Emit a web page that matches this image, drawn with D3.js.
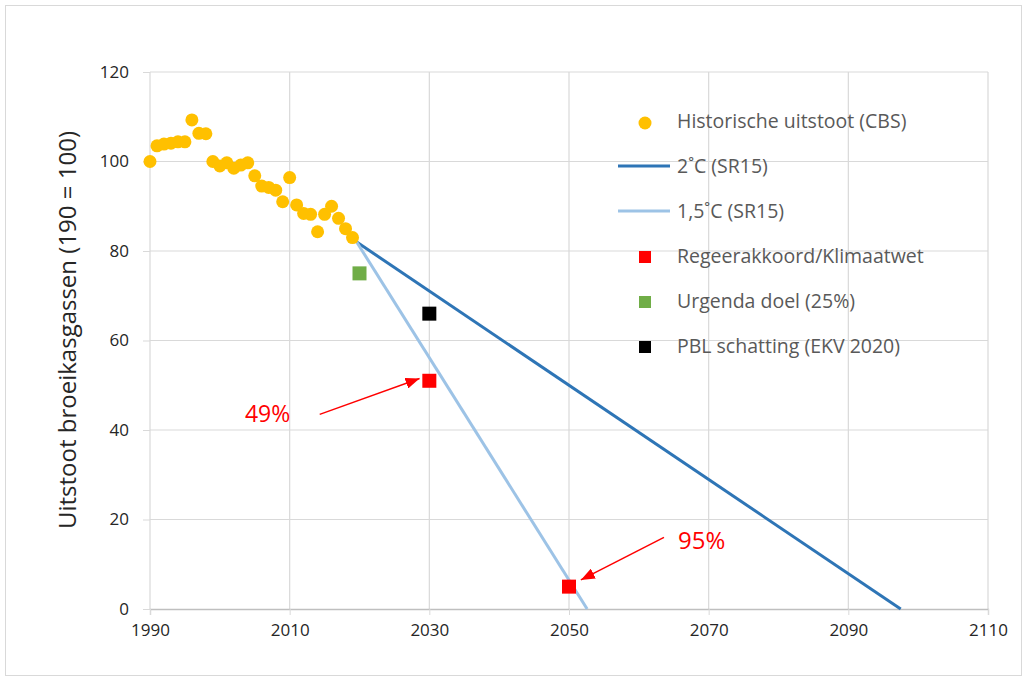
<!DOCTYPE html>
<html>
<head>
<meta charset="utf-8">
<script src="https://cdn.jsdelivr.net/npm/d3@7"></script>
<style>
  body { margin: 0; background: #fff; }
  svg text { font-family: "Open Sans", "Noto Sans", sans-serif; }
</style>
</head>
<body>
<div id="chart"></div>
<script>
  // Data
  const histYears = [1990, 1991, 1992, 1993, 1994, 1995, 1996, 1997, 1998, 1999,
    2000, 2001, 2002, 2003, 2004, 2005, 2006, 2007, 2008, 2009,
    2010, 2011, 2012, 2013, 2014, 2015, 2016, 2017, 2018, 2019];
  const histValues = [100, 103.5, 103.9, 104.1, 104.4, 104.4, 109.3, 106.3, 106.2, 100,
    99, 99.7, 98.5, 99.2, 99.7, 96.8, 94.5, 94.2, 93.6, 91,
    96.4, 90.3, 88.4, 88.2, 84.3, 88.2, 90, 87.3, 85, 83];
  const path2C = [[2019.6, 82], [2097.5, 0]];
  const path15C = [[2019.6, 82], [2052.6, 0]];
  const regeerakkoord = [[2030, 51], [2050, 5]];
  const urgenda = [[2020, 75]];
  const pbl = [[2030, 66]];
  const xTicks = [1990, 2010, 2030, 2050, 2070, 2090, 2110];
  const yTicks = [0, 20, 40, 60, 80, 100, 120];
  const legendLabels = ["Historische uitstoot (CBS)", "2\u02daC (SR15)", "1,5\u02daC (SR15)",
    "Regeerakkoord/Klimaatwet", "Urgenda doel (25%)", "PBL schatting (EKV 2020)"];
  const annotations = [
    { label: "49%", size: 23, from: [2014.3, 43.5], to: [2028.6, 51.5], text: [2003.6, 43.5] },
    { label: "95%", size: 24, from: [2063.6, 16], to: [2051.7, 6.5], text: [2065.6, 15.2] }
  ];

  const W = 1027, H = 681;
  const margin = { left: 150, right: 39, top: 72, bottom: 72 };

  const svg = d3.select("#chart").append("svg")
    .attr("width", W).attr("height", H);

  // outer frame
  svg.append("rect")
    .attr("x", 5.5).attr("y", 5.5)
    .attr("width", W - 11).attr("height", H - 11)
    .attr("fill", "#fff").attr("stroke", "#d9d9d9");

  const x = d3.scaleLinear().domain([1990, 2110]).range([margin.left, W - margin.right]);
  const y = d3.scaleLinear().domain([0, 120]).range([H - margin.bottom, margin.top]);

  // gridlines
  svg.append("g").selectAll("line").data(yTicks.filter(d => d > 0)).join("line")
    .attr("x1", x(1990)).attr("x2", x(2110))
    .attr("y1", d => y(d)).attr("y2", d => y(d))
    .attr("stroke", "#d9d9d9").attr("stroke-width", 1.2);
  svg.append("g").selectAll("line").data(xTicks).join("line")
    .attr("x1", d => x(d)).attr("x2", d => x(d))
    .attr("y1", y(0)).attr("y2", y(120))
    .attr("stroke", "#d9d9d9").attr("stroke-width", 1.2);

  // axes
  const xAxis = svg.append("g")
    .attr("transform", `translate(0,${y(0)})`)
    .call(d3.axisBottom(x).tickValues(xTicks).tickFormat(d3.format("d")).tickSize(6).tickPadding(9));
  xAxis.select(".domain").attr("stroke", "#bfbfbf").attr("stroke-width", 1.3);
  xAxis.selectAll(".tick line").attr("stroke", "#d9d9d9");
  xAxis.selectAll("text").attr("font-size", 17).attr("fill", "#262626");

  const yAxis = svg.append("g")
    .attr("transform", `translate(${x(1990)},0)`)
    .call(d3.axisLeft(y).tickValues(yTicks).tickSize(7).tickPadding(14));
  yAxis.select(".domain").remove();
  yAxis.selectAll(".tick line").attr("stroke", "#d9d9d9");
  yAxis.selectAll("text").attr("font-size", 17).attr("fill", "#262626");

  svg.append("text")
    .attr("transform", `translate(76,330) rotate(-90)`)
    .attr("text-anchor", "middle")
    .attr("font-size", 24).attr("fill", "#262626")
    .text("Uitstoot broeikasgassen (190 = 100)");

  // lines
  const line = d3.line().x(d => x(d[0])).y(d => y(d[1]));
  svg.append("path").datum(path2C).attr("d", line)
    .attr("fill", "none").attr("stroke", "#2E75B6").attr("stroke-width", 3);
  svg.append("path").datum(path15C).attr("d", line)
    .attr("fill", "none").attr("stroke", "#9DC3E6").attr("stroke-width", 3);

  // historical dots
  svg.append("g").selectAll("circle").data(histYears).join("circle")
    .attr("cx", d => x(d)).attr("cy", (d, i) => y(histValues[i]))
    .attr("r", 6.5).attr("fill", "#FFC000");

  // square markers
  const sq = 14;
  function squares(data, color) {
    svg.append("g").selectAll("rect").data(data).join("rect")
      .attr("x", d => x(d[0]) - sq / 2).attr("y", d => y(d[1]) - sq / 2)
      .attr("width", sq).attr("height", sq).attr("fill", color);
  }
  squares(urgenda, "#70AD47");
  squares(pbl, "#000");
  squares(regeerakkoord, "#FF0000");

  // annotations
  svg.append("defs").append("marker")
    .attr("id", "arrowBig").attr("viewBox", "0 0 10 10")
    .attr("refX", 10).attr("refY", 5)
    .attr("markerWidth", 14).attr("markerHeight", 11)
    .attr("markerUnits", "userSpaceOnUse")
    .attr("orient", "auto").attr("preserveAspectRatio", "none")
    .append("path").attr("d", "M0,0 L10,5 L0,10 z").attr("fill", "#FF0000");

  annotations.forEach(a => {
    svg.append("line")
      .attr("x1", x(a.from[0])).attr("y1", y(a.from[1]))
      .attr("x2", x(a.to[0])).attr("y2", y(a.to[1]))
      .attr("stroke", "#FF0000").attr("stroke-width", 1.5)
      .attr("marker-end", "url(#arrowBig)");
    svg.append("text")
      .attr("x", x(a.text[0])).attr("y", y(a.text[1]))
      .attr("dy", "0.35em")
      .attr("font-size", a.size).attr("fill", "#FF0000")
      .text(a.label);
  });

  // legend
  const legend = svg.append("g").attr("transform", "translate(618,121)");
  const rowH = 45;
  legendLabels.forEach((label, i) => {
    const g = legend.append("g").attr("transform", `translate(0,${i * rowH})`);
    if (i === 0) {
      g.append("circle").attr("cx", 27).attr("cy", 2).attr("r", 6.5).attr("fill", "#FFC000");
    } else if (i === 1 || i === 2) {
      g.append("line").attr("x1", 0).attr("x2", 52).attr("y1", 0).attr("y2", 0)
        .attr("stroke", i === 1 ? "#2E75B6" : "#9DC3E6").attr("stroke-width", 3);
    } else {
      const c = ["#FF0000", "#70AD47", "#000"][i - 3];
      g.append("rect").attr("x", 21).attr("y", -5).attr("width", 12).attr("height", 12).attr("fill", c);
    }
    g.append("text")
      .attr("x", 59).attr("y", 0).attr("dy", "0.35em")
      .attr("font-size", 19.5).attr("fill", "#595959")
      .text(label);
  });
</script>
</body>
</html>
